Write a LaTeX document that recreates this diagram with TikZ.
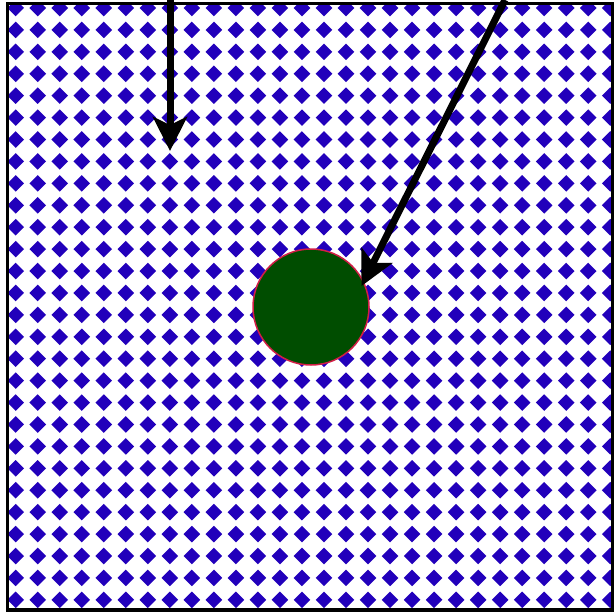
\documentclass[tikz,border=0pt]{standalone}
\usetikzlibrary{arrows.meta}
\definecolor{dotblue}{RGB}{34,0,187}
\definecolor{darkgreen}{RGB}{0,77,0}
\definecolor{rim}{RGB}{210,30,70}
\begin{document}
\begin{tikzpicture}[x=1pt,y=-1pt,
  dotstyle/.style={fill=dotblue},
  framestyle/.style={draw=black,line width=3.5pt},
  ball/.style={circle,fill=darkgreen,draw=rim,line width=1.5pt,minimum size=116pt,inner sep=0pt},
  arr/.style={line width=7pt,-{Stealth[length=34pt,width=34pt,inset=8pt]}}]
\useasboundingbox (0,0) rectangle (615,615);
\begin{scope}
\clip (7.5,3.5) rectangle (612.5,610);
\foreach \i in {0,...,27}{
  \foreach \j in {0,...,27}{
    \fill[dotstyle] ({15.7+22.02*\i},{8+21.92*\j}) +(-8.3,0) -- +(0,-8.3) -- +(8.3,0) -- +(0,8.3) -- cycle;
  }
}
\end{scope}
\draw[framestyle] (7.5,3.5) rectangle (612.5,610);
\node[ball] (c) at (311,307) {};
\coordinate (a1s) at (170,0);
\coordinate (a1e) at (170,151);
\coordinate (a2s) at (505,0);
\coordinate (a2e) at (361.5,286);
\draw[arr] (a1s) -- (a1e);
\draw[arr] (a2s) -- (a2e);
\end{tikzpicture}
\end{document}
